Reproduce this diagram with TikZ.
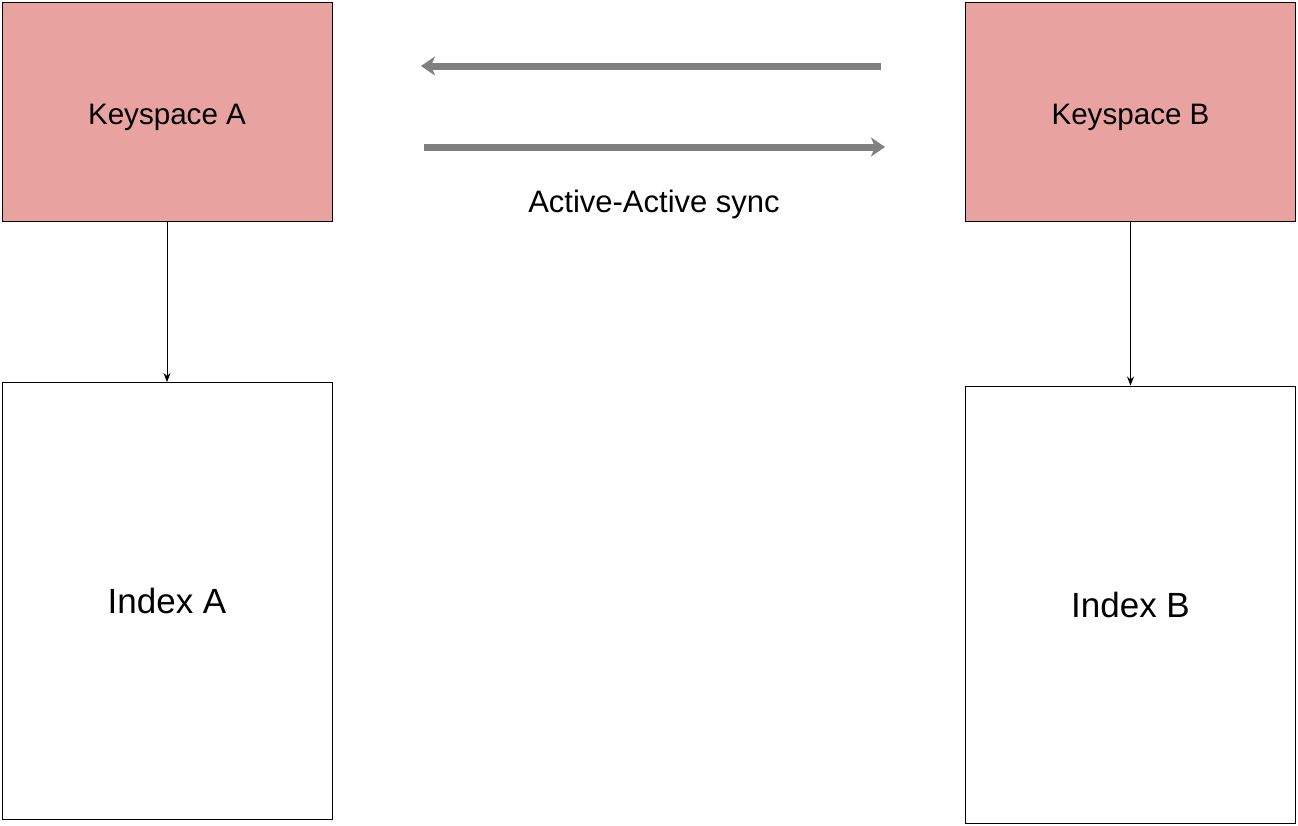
\documentclass[tikz,border=0pt]{standalone}
\usepackage{fontspec}
\setmainfont{Liberation Sans}
\usepackage{xcolor}
\usetikzlibrary{arrows.meta}
\definecolor{keyred}{HTML}{E8A3A0}
\definecolor{syncgray}{HTML}{808080}
\tikzstyle{keybox}=[rectangle,draw=black,fill=keyred,line width=1pt,minimum width=330pt,minimum height=219pt,inner sep=0pt,text height=31pt,text depth=5.6pt,font=\fontsize{29.6}{34}\selectfont]
\tikzstyle{indexbox}=[rectangle,draw=black,fill=white,line width=1pt,minimum width=330pt,minimum height=437pt,inner sep=0pt,font=\fontsize{35}{40}\selectfont]
\tikzstyle{edge} = [draw,line width=0.8pt,-{Stealth[length=9pt,width=7pt]}]
\tikzstyle{syncedge} = [draw,syncgray,line width=7pt,-{Stealth[length=14pt,width=19pt,inset=4pt]}]
\tikzstyle{label} = [font=\fontsize{31}{36}\selectfont]

\begin{document}
\begin{tikzpicture}[x=1pt,y=-1pt]

  \useasboundingbox (0,0) rectangle (1298,825);

   \foreach \x/\y/\name/\label in {167/111.5/KA/A, 1130.5/111.5/KB/B}
          \node[keybox] (\name) at (\x, \y) {Keyspace \label};

   \foreach \x/\y/\name/\label in {167/601/IA/A, 1130.5/604.5/IB/B}
          \node[indexbox] (\name) at (\x, \y) {Index \label};

  \coordinate (syncTopR) at (881,66);
  \coordinate (syncTopL) at (421,66);
  \coordinate (syncBotL) at (424,147);
  \coordinate (syncBotR) at (885,147);

  \foreach \source/ \dest in {KA/IA, KB/IB}
         \path[edge] (\source) -- (\dest);

  \path[syncedge] (syncTopR) -- (syncTopL);
  \path[syncedge] (syncBotL) -- (syncBotR);

  \node[label] (synclabel) at (654,204) {Active-Active sync};

   \end{tikzpicture}
\end{document}
